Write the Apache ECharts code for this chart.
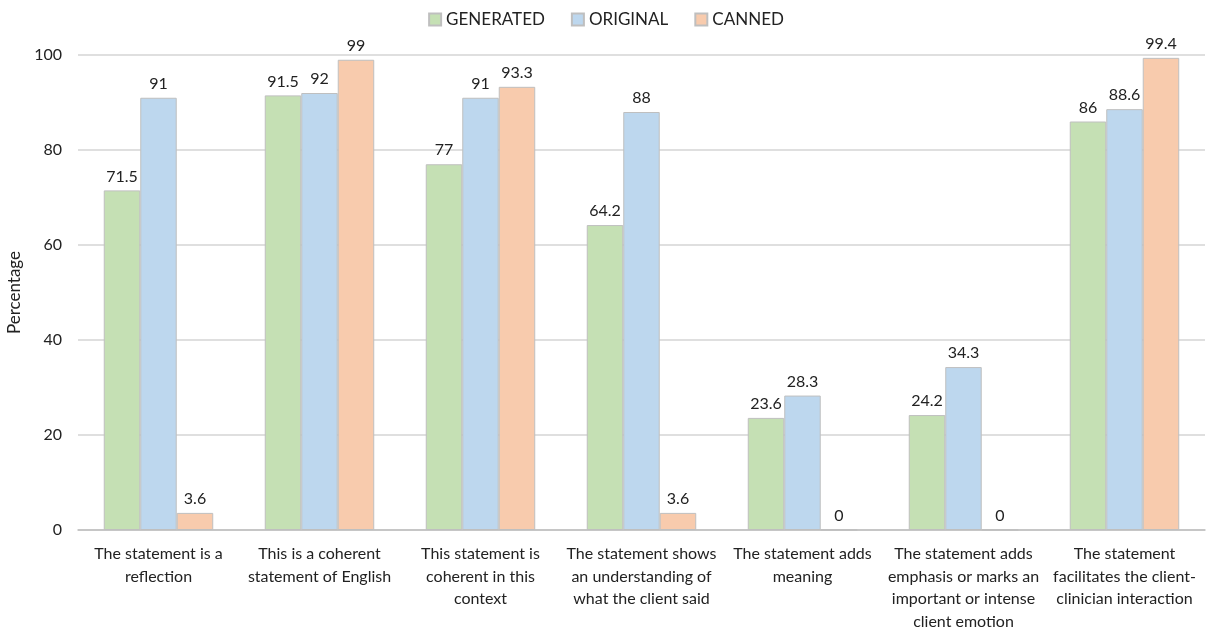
<!DOCTYPE html>
<html>
<head>
<meta charset="utf-8">
<script src="https://cdn.jsdelivr.net/npm/echarts@6/dist/echarts.min.js"></script>
<style>
  html, body { margin: 0; padding: 0; background: #fff; }
  #chart { width: 1212px; height: 627px; }
</style>
</head>
<body>
<div id="chart"></div>
<script>
const categories = [
  'The statement is a\nreflection',
  'This is a coherent\nstatement of English',
  'This statement is\ncoherent in this\ncontext',
  'The statement shows\nan understanding of\nwhat the client said',
  'The statement adds\nmeaning',
  'The statement adds\nemphasis or marks an\nimportant or intense\nclient emotion',
  'The statement\nfacilitates the client-\nclinician interaction'
];
const generated = [71.5, 91.5, 77, 64.2, 23.6, 24.2, 86];
const original = [91, 92, 91, 88, 28.3, 34.3, 88.6];
const canned = [3.6, 99, 93.3, 3.6, 0, 0, 99.4];
const yTicks = [0, 20, 40, 60, 80, 100];

const font = 'Lato, "Open Sans", sans-serif';
const label = { show: true, position: 'top', color: '#222', fontSize: 16, fontFamily: font, distance: 6 };

function barSeries(name, data, color) {
  return {
    name: name,
    type: 'bar',
    data: data,
    barGap: 0,
    barCategoryGap: '32%',
    itemStyle: { color: color, borderColor: '#bfbfbf', borderWidth: 1 },
    label: label
  };
}

const option = {
  backgroundColor: '#fff',
  textStyle: { fontFamily: font },
  legend: {
    top: 6,
    left: 'center',
    itemWidth: 12,
    itemHeight: 12,
    itemGap: 26,
    icon: 'rect',
    textStyle: { fontSize: 17, color: '#222', fontFamily: font }
  },
  grid: { left: 78, right: 7, top: 55, bottom: 97, outerBoundsMode: 'none' },
  xAxis: {
    type: 'category',
    data: categories,
    axisTick: { show: false },
    axisLine: { lineStyle: { color: '#bfbfbf', width: 1.5 } },
    axisLabel: { interval: 0, color: '#222', fontSize: 16, lineHeight: 22.5, margin: 13, fontFamily: font }
  },
  yAxis: {
    type: 'value',
    min: yTicks[0],
    max: yTicks[yTicks.length - 1],
    interval: 20,
    name: 'Percentage',
    nameLocation: 'middle',
    nameGap: 52,
    nameTextStyle: { fontSize: 17, color: '#222', fontFamily: font },
    axisLabel: { color: '#222', fontSize: 16, margin: 16, fontFamily: font },
    splitLine: { lineStyle: { color: '#d4d4d4', width: 1.5 } }
  },
  series: [
    barSeries('GENERATED', generated, '#c5e0b4'),
    barSeries('ORIGINAL', original, '#bdd7ee'),
    barSeries('CANNED', canned, '#f8cbad')
  ]
};

const myChart = echarts.init(document.getElementById('chart'));
myChart.setOption(option);
</script>
</body>
</html>
